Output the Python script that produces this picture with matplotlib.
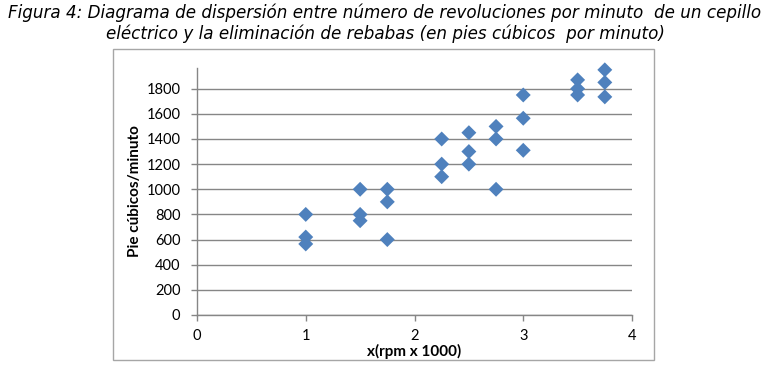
import matplotlib
matplotlib.use("Agg")
import matplotlib.pyplot as plt
from matplotlib.patches import Rectangle

rpm = [1, 1, 1, 1.5, 1.5, 1.5, 1.75, 1.75, 1.75,
       2.25, 2.25, 2.25, 2.5, 2.5, 2.5, 2.75, 2.75, 2.75,
       3, 3, 3, 3.5, 3.5, 3.5, 3.75, 3.75, 3.75]
flow = [800, 620, 565, 1000, 800, 750, 1000, 900, 600,
        1400, 1200, 1100, 1450, 1300, 1200, 1500, 1400, 1000,
        1750, 1565, 1310, 1870, 1800, 1750, 1950, 1850, 1735]
x_ticks = [0, 1, 2, 3, 4]
y_ticks = list(range(0, 1801, 200))

title = ("Figura 4: Diagrama de dispersión entre número de revoluciones por minuto  de un cepillo\n"
         "eléctrico y la eliminación de rebabas (en pies cúbicos  por minuto)")

W, H = 778, 372
fig = plt.figure(figsize=(W / 100, H / 100), dpi=100)
fig.patch.set_facecolor("white")

# chart border
fig.add_artist(Rectangle((112.7 / W, 1 - 360 / H), (654 - 112.7) / W, (360 - 49.3) / H,
                         transform=fig.transFigure, fill=False, edgecolor="#A6A6A6", lw=1.0))

fig.text(385 / W, 1 - 23.5 / H, title, ha="center", va="center", fontsize=12.1,
         style="italic", family="DejaVu Sans", linespacing=1.15)

ax = fig.add_axes([197 / W, 1 - 315 / H, (632 - 197) / W, (315 - 67.7) / H])
ax.set_xlim(0, 4)
ax.set_ylim(0, 1967)
ax.set_xticks(x_ticks)
ax.set_yticks(y_ticks)
ax.grid(axis="y", color="#868686", lw=1.0)
ax.set_axisbelow(True)
for s in ["top", "right"]:
    ax.spines[s].set_visible(False)
for s in ["left", "bottom"]:
    ax.spines[s].set_color("#868686")
    ax.spines[s].set_linewidth(1.0)
ax.tick_params(axis="both", direction="out", length=4, width=1, color="#868686",
               labelsize=10.5, labelcolor="black")
ax.tick_params(axis="x", pad=6)
ax.tick_params(axis="y", pad=8)
for lab in ax.get_xticklabels() + ax.get_yticklabels():
    lab.set_family("Lato")

ax.scatter(rpm, flow, marker="D", s=58, color="#4F81BD", edgecolors="none", zorder=3,
           clip_on=False)

ax.set_xlabel("x(rpm x 1000)", fontsize=11, fontweight="bold", family="Lato", labelpad=1)
ax.set_ylabel("Pie cúbicos/minuto", fontsize=11, fontweight="bold", family="Lato", labelpad=3)

fig.savefig("out.png", dpi=100)
